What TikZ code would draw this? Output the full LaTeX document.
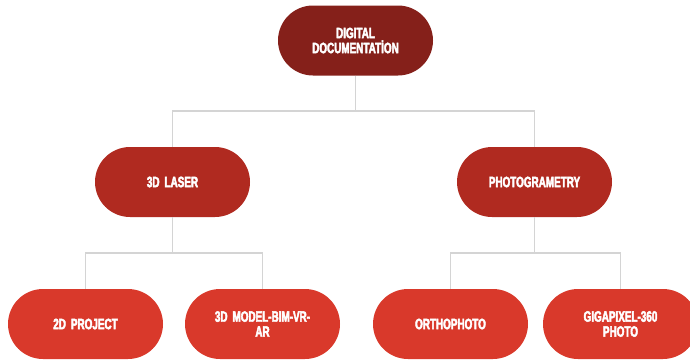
\documentclass[tikz,border=0pt]{standalone}
\usepackage{fontspec}
\setmainfont{Liberation Sans}[FakeStretch=0.66, WordSpace=0.7, BoldFeatures={FakeBold=3}]
\begin{document}
\begin{tikzpicture}[x=1pt,y=-1pt,
  pill/.style={rectangle, rounded corners=35pt, minimum width=155pt, minimum height=70pt,
    text=white, font=\bfseries\fontsize{15}{15}\selectfont, align=center, inner sep=2pt, text width=140pt},
  lvlA/.style={pill, fill=topred},
  lvlB/.style={pill, fill=midred},
  lvlC/.style={pill, fill=lowred},
  conn/.style={draw=connGray, line width=1.4pt}]
\definecolor{topred}{HTML}{85201A}
\definecolor{midred}{HTML}{B02A20}
\definecolor{lowred}{HTML}{D9392B}
\definecolor{connGray}{HTML}{D4D4D4}
\useasboundingbox (0,0) rectangle (690,362);
\clip (0,0) rectangle (690,362);
\node[lvlA] (top) at (355.5,40.5) {DIGITAL\\DOCUMENTATİON};
\node[lvlB] (laser) at (172.5,182) {3D LASER};
\node[lvlB] (photo) at (534.5,182) {PHOTOGRAMETRY};
\node[lvlC] (p2d) at (85.5,324) {2D PROJECT};
\node[lvlC] (m3d) at (262.5,324) {3D MODEL-BIM-VR-\\AR};
\node[lvlC] (ortho) at (450.5,324) {ORTHOPHOTO};
\node[lvlC] (giga) at (620.5,324) {GIGAPIXEL-360\\PHOTO};
\coordinate (busA) at (355.5,111);
\coordinate (busB) at (172.5,253);
\coordinate (busC) at (534.5,253);
\draw[conn] (top.south) -- (busA);
\draw[conn] (laser.north) |- (busA) -| (photo.north);
\draw[conn] (laser.south) -- (busB);
\draw[conn] (p2d.north) |- (busB) -| (m3d.north);
\draw[conn] (photo.south) -- (busC);
\draw[conn] (ortho.north) |- (busC) -| (giga.north);
\end{tikzpicture}
\end{document}
